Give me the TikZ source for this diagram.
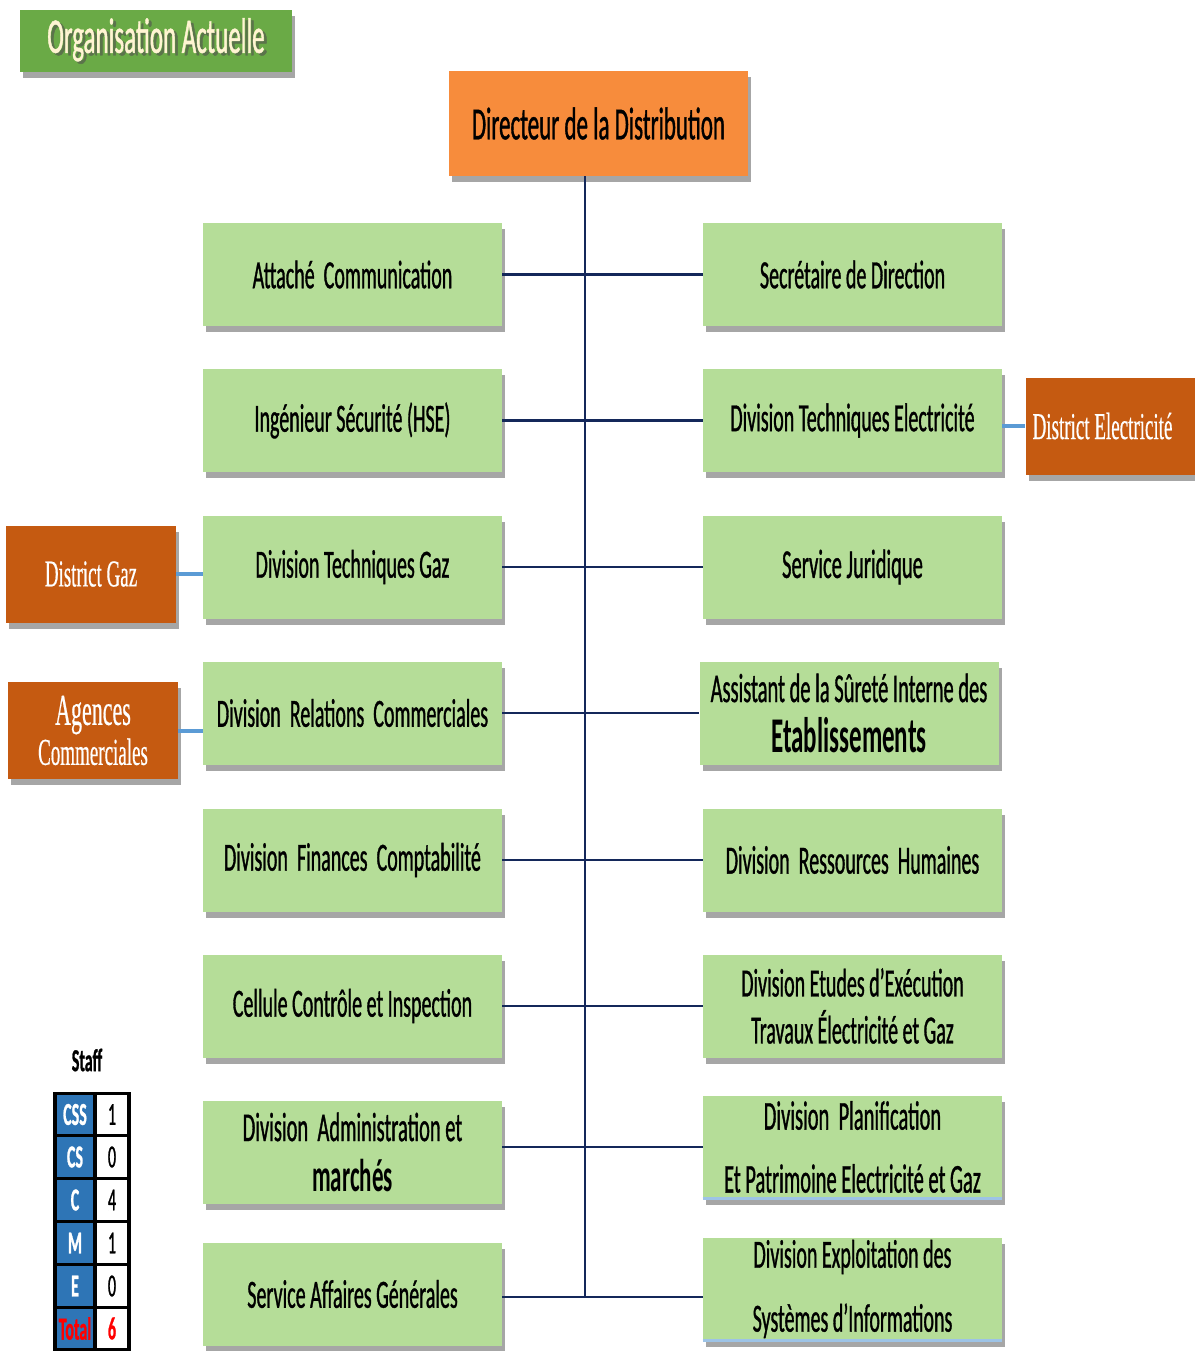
\documentclass[tikz,border=0pt]{standalone}
\usepackage{fontspec}
\setmainfont{Carlito}[FakeStretch=0.5, FakeBold=0.8]
\newfontfamily\cbold{Carlito}[FakeStretch=0.5]
\newfontfamily\serifc{Liberation Serif}[FakeStretch=0.5, FakeBold=0.4]
\usetikzlibrary{shadows}
\definecolor{boxgreen}{RGB}{181,221,152}
\definecolor{titlegreen}{RGB}{106,170,70}
\definecolor{titletext}{RGB}{255,244,210}
\definecolor{titleshade}{RGB}{50,80,30}
\definecolor{dirorange}{RGB}{247,140,60}
\definecolor{district}{RGB}{197,90,17}
\definecolor{navy}{RGB}{20,40,90}
\definecolor{lblue}{RGB}{91,155,213}
\definecolor{tblue}{RGB}{46,117,182}
\tikzset{
  shad/.style={drop shadow={shadow xshift=1.5pt, shadow yshift=-3pt, fill=black, opacity=0.35}},
  gbox/.style={fill=boxgreen, minimum width=149.5pt, minimum height=51.5pt, inner sep=0pt, align=center, font=\fontsize{20}{21}\selectfont, shad},
  dbox/.style={fill=district, text=white, minimum width=85pt, minimum height=48.5pt, inner sep=0pt, align=center, font=\serifc\fontsize{19}{20}\selectfont},
  link/.style={draw=navy, line width=1.4pt},
  blink/.style={draw=lblue, line width=2pt},
  lcell/.style={fill=tblue, draw=black, line width=1.6pt, minimum width=20pt, minimum height=21.4pt, inner sep=0pt, text=white, font=\bfseries\fontsize{16}{16}\selectfont},
  rcell/.style={fill=white, draw=black, line width=1.6pt, minimum width=17pt, minimum height=21.4pt, inner sep=0pt, font=\fontsize{16}{16}\selectfont},
}
\newcommand{\shadowtext}[1]{\makebox[0pt][l]{\raisebox{-1.2pt}{\hspace{1.5pt}\textcolor{titleshade!80}{#1}}}#1}
\begin{document}
\begin{tikzpicture}[x=0.5pt,y=-0.5pt]
\useasboundingbox (0,0) rectangle (1195,1351);
% title
\node[fill=titlegreen, minimum width=136pt, minimum height=31pt, inner sep=0pt, text=titletext, font=\fontsize{25}{25}\selectfont, shad] (title) at (156,41) {\shadowtext{Organisation Actuelle}};
% director
\node[fill=dirorange, minimum width=149.5pt, minimum height=52.5pt, inner sep=0pt, font=\fontsize{23}{23}\selectfont, shad] (dir) at (598.5,123.5) {Directeur de la Distribution};
% left boxes
\node[gbox] (L1) at (352.5,274.5) {Attaché\ \ Communication};
\node[gbox] (L2) at (352.5,420.5) {Ingénieur Sécurité (HSE)};
\node[gbox] (L3) at (352.5,567) {Division Techniques Gaz};
\node[gbox] (L4) at (352.5,713) {Division\ \ Relations\ \ Commerciales};
\node[gbox] (L5) at (352.5,860) {Division\ \ Finances\ \ Comptabilité};
\node[gbox] (L6) at (352.5,1006) {Cellule Contrôle et Inspection};
\node[gbox, font=\fontsize{20.5}{25}\selectfont] (L7) at (352.5,1152) {Division\ \ Administration et\\{\cbold\bfseries\fontsize{23}{23}\selectfont marchés}};
\node[gbox] (L8) at (352.5,1294) {Service Affaires Générales};
% right boxes
\node[gbox] (R1) at (852.5,274.5) {Secrétaire de Direction};
\node[gbox] (R2) at (852.5,420.5) {Division Techniques Electricité};
\node[gbox, font=\fontsize{20.5}{24}\selectfont] (R3) at (852.5,567) {Service Juridique};
\node[gbox, font=\fontsize{20.5}{25}\selectfont] (R4) at (849,713) {Assistant de la Sûreté Interne des\\{\cbold\bfseries\fontsize{25}{25}\selectfont Etablissements}};
\node[gbox] (R5) at (852.5,860) {Division\ \ Ressources\ \ Humaines};
\node[gbox, font=\fontsize{20}{23.5}\selectfont] (R6) at (852.5,1006) {Division\ Etudes d’Exécution\\Travaux Électricité et Gaz};
\node[gbox, font=\fontsize{20.5}{31.5}\selectfont] (R7) at (852.5,1147) {Division\ \ Planification\\Et Patrimoine\ Electricité\ et\ Gaz};
\node[gbox, font=\fontsize{20}{32}\selectfont] (R8) at (852.5,1289) {Division Exploitation des\\Systèmes d’Informations};
\draw[lblue!60, line width=1.5pt] (R7.south west) -- (R7.south east);
\draw[lblue!60, line width=1.5pt] (R8.south west) -- (R8.south east);
% districts
\node[dbox, shad] (de) at (1110.5,426) {District Electricité\hspace{8pt}};
\node[dbox, shad] (dg) at (91,574) {District Gaz};
\node[dbox, shad] (ac) at (93,730.5) {{\fontsize{22}{20}\selectfont Agences}\\Commerciales};
% connectors
\coordinate (bot) at (585,1297);
\draw[link] (dir.south -| bot) -- (bot);
\foreach \i in {1,...,6} {\draw[link] (L\i.east) -- (R\i.west);}
\draw[link] (L7.east |- R7.west) -- (R7.west);
\draw[link] (L8.east |- bot) -- (R8.west |- bot);
\draw[blink] (de.west) -- (de.west -| R2.east);
\draw[blink] (dg.east) -- (dg.east -| L3.west);
\draw[blink] (ac.east) -- (ac.east -| L4.west);
% staff table
\node[font=\bfseries\fontsize{16}{16}\selectfont] (staff) at (87,1060) {Staff};
\foreach \n/\lab/\val/\y in {1/CSS/1/1114.5, 2/CS/0/1157, 3/C/4/1200, 4/M/1/1243, 5/E/0/1286} {
  \node[lcell] (c\n) at (75,\y) {\lab};
  \node[rcell] (v\n) at (112,\y) {\val};
}
\node[lcell, text=red] (c6) at (75,1328.5) {Total};
\node[rcell, text=red, font=\bfseries\fontsize{16}{16}\selectfont] (v6) at (112,1328.5) {6};
\end{tikzpicture}
\end{document}
